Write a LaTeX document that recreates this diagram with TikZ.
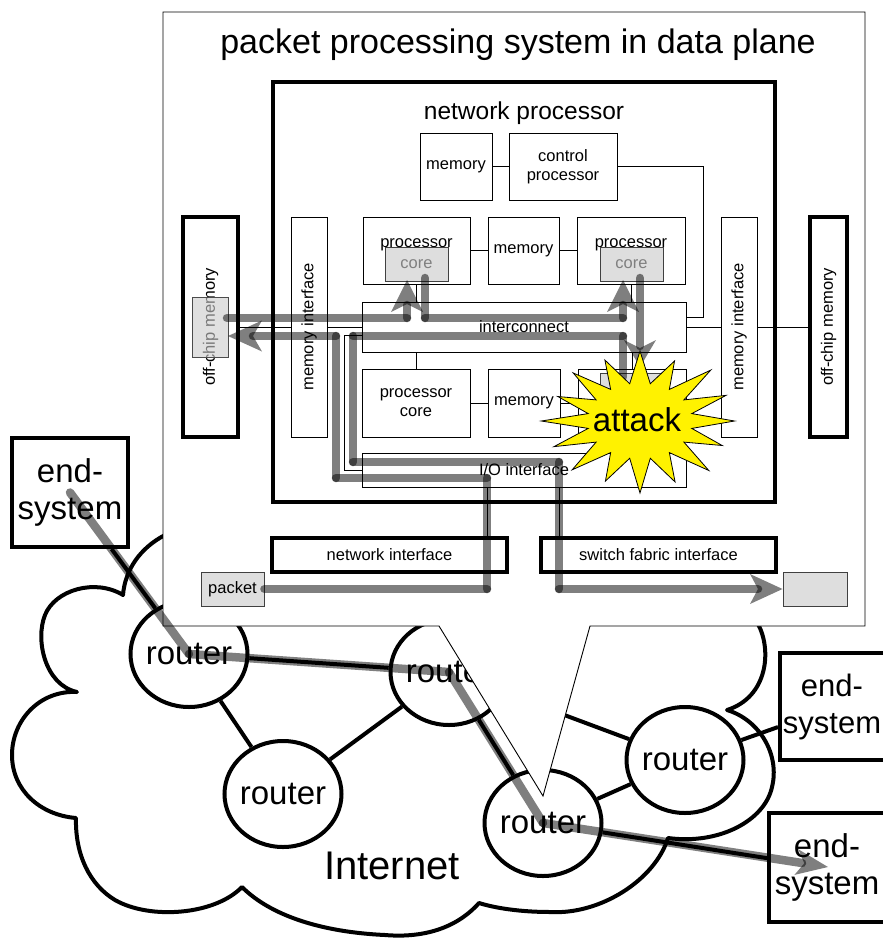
\documentclass[tikz,border=0pt]{standalone}
\usepackage{fontspec}
\setmainfont{Liberation Sans}
\usetikzlibrary{shapes.geometric}
\tikzset{
  f16/.style={font=\fontsize{16.5}{19}\selectfont},
  f24/.style={font=\fontsize{24.5}{28}\selectfont},
  f31/.style={font=\fontsize{31}{37}\selectfont},
  f33/.style={font=\fontsize{33}{37}\selectfont},
  f34/.style={font=\fontsize{34}{40}\selectfont},
  f40/.style={font=\fontsize{40}{46}\selectfont},
  thinline/.style={draw=black, line width=0.9pt},
  box/.style={rectangle, draw=black, line width=0.9pt, fill=white, inner sep=0pt, align=center, f16},
  greybox/.style={rectangle, draw=black!75, line width=0.9pt, fill=black!13, inner sep=0pt, text=black!50, f16},
  flow/.style={line width=8.5pt, draw=black, draw opacity=0.5, line cap=round},
  flowtip/.style={fill=black, fill opacity=0.5, draw=none},
  link/.style={line width=4pt, draw=black},
  router/.style={ellipse, draw=black, line width=4pt, fill=white, minimum width=117pt, minimum height=106pt, inner sep=0pt},
  endsys/.style={rectangle, draw=black, line width=4pt, fill=white, inner sep=0pt},
  cloudline/.style={draw=black, line width=4pt, fill=white, line join=round},
  attackstar/.style={draw=black, line width=0.8pt, fill=yellow},
}
\begin{document}
\begin{tikzpicture}[x=1pt,y=-1pt]
\useasboundingbox (0,0) rectangle (883,938);

% ---------- cloud ----------
\draw[cloudline] (175,528) -- (760,528) -- (758,624)
  .. controls (772,650) and (768,697) .. (727,710)
  .. controls (760,720) and (780,755) .. (772,787)
  .. controls (765,820) and (720,845) .. (668,838)
  .. controls (655,880) and (600,915) .. (550,912)
  .. controls (520,912) and (495,908) .. (479,903)
  .. controls (455,930) and (420,938) .. (385,935)
  .. controls (320,932) and (270,915) .. (242,887)
  .. controls (215,915) and (150,920) .. (115,900)
  .. controls (90,885) and (75,855) .. (76,818)
  .. controls (40,815) and (12,790) .. (12,755)
  .. controls (12,720) and (40,690) .. (77,692)
  .. controls (45,685) and (35,640) .. (45,615)
  .. controls (55,590) and (95,578) .. (123,595)
  .. controls (125,570) and (140,548) .. (165,535)
  -- cycle;

% ---------- routers and end-systems ----------
\node[router] (R1) at (189,654) {};
\node[router] (R2) at (449,672) {};
\node[router] (R3) at (283,794) {};
\node[router] (R4) at (543,823) {};
\node[router] (R5) at (685,760) {};
\node[endsys, minimum width=116pt, minimum height=109pt] (ES1) at (70,492.5) {};
\node[endsys, minimum width=112pt, minimum height=107pt] (ES2) at (836,706.5) {};
\node[endsys, minimum width=116pt, minimum height=109pt] (ES3) at (827,867.5) {};

\draw[link] (ES1) -- (R1);
\draw[link] (R1) -- (R2);
\draw[link] (R1) -- (R3);
\draw[link] (R3) -- (R2);
\draw[link] (R2) -- (R4);
\draw[link] (R2) -- (R5);
\draw[link] (R4) -- (R5);
\draw[link] (R5) -- (ES2);
\draw[link] (R4) -- (ES3);

\node[f33] (R1t) at (R1) {router};
\node[f33] (R2t) at (R2) {router};
\node[f33] (R3t) at (R3) {router};
\node[f33] (R4t) at (R4) {router};
\node[f33] (R5t) at (R5) {router};
\node[f33, align=center] (ES1t) at (ES1) {end-\\system};
\node[f31, align=center] (ES2t) at (832,706.5) {end-\\system};
\node[f33, align=center] (ES3t) at (ES3) {end-\\system};
\node[f40] (inet) at (392,866) {Internet};

% ---------- callout ----------
\draw[line width=0.9pt, fill=white] (163,12) -- (865,12) -- (865,626) -- (590,626)
  -- (543,796) -- (439,626) -- (163,626) -- cycle;
\node[f34] (title) at (518,45) {packet processing system in data plane};

% network processor
\node[rectangle, draw=black, line width=4pt, minimum width=502pt, minimum height=420pt, inner sep=0pt] (np) at (524,292) {};
\node[f24] (nptitle) at (524,113) {network processor};

\node[box, minimum width=72pt, minimum height=67pt] (memtop) at (456,166.5) {memory};
\node[box, minimum width=108pt, minimum height=67pt] (ctrl) at (563,166.5) {control\\processor};
\node[box, minimum width=107pt, minimum height=67pt] (proc1) at (416.5,250.5) {};
\node[f16, anchor=base] (proc1t) at (416.5,247) {processor};
\node[greybox, minimum width=63pt, minimum height=34pt] (core1) at (416.5,264) {core};
\node[box, minimum width=71pt, minimum height=67pt] (memmid) at (523.5,250.5) {memory};
\node[box, minimum width=108pt, minimum height=67pt] (proc2) at (631,250.5) {};
\node[f16, anchor=base] (proc2t) at (631,247) {processor};
\node[greybox, minimum width=63pt, minimum height=34pt] (core2) at (631.5,264) {core};
\node[box, minimum width=324pt, minimum height=50pt] (ic) at (524,327) {interconnect};
\node[box, minimum width=108pt, minimum height=68pt] (proc3) at (416,403) {processor\\core};
\node[box, minimum width=72pt, minimum height=68pt] (membot) at (524,403) {memory};
\node[box, minimum width=108pt, minimum height=68pt] (proc4) at (632,403) {};
\node[greybox, minimum width=62pt, minimum height=34pt] (core4) at (631,390) {};
\node[box, minimum width=324pt, minimum height=34pt] (io) at (524,470) {I/O interface};
\node[box, minimum width=36pt, minimum height=220pt] (memifL) at (309,327) {};
\node[f16, rotate=90] (memifLt) at (309,327) {memory interface};
\node[box, minimum width=36pt, minimum height=220pt] (memifR) at (739,327) {};
\node[f16, rotate=90] (memifRt) at (739,327) {memory interface};
\node[box, line width=4pt, minimum width=55pt, minimum height=220pt] (offL) at (210.5,327) {};
\node[f16, rotate=90] (offLt) at (210.5,327) {off-chip memory};
\node[rectangle, draw=black!70, line width=0.9pt, fill=black!20, fill opacity=0.6, minimum width=36pt, minimum height=60pt, inner sep=0pt] (offgrey) at (210,327) {};
\node[box, line width=4pt, minimum width=37pt, minimum height=220pt] (offR) at (828.5,327) {};
\node[f16, rotate=90] (offRt) at (828.5,327) {off-chip memory};
\node[box, line width=4pt, minimum width=235pt, minimum height=34pt] (netif) at (389.5,555) {network interface};
\node[box, line width=4pt, minimum width=235pt, minimum height=34pt] (swif) at (658.5,555) {switch fabric interface};
\node[greybox, text=black, minimum width=63pt, minimum height=34pt] (pkt) at (232.5,589) {packet};
\node[greybox, minimum width=64pt, minimum height=34pt] (outpkt) at (815,589) {};

% thin connections
\coordinate (cpc) at (703,317);
\coordinate (iol) at (344,335);
\coordinate (ionet) at (487,487);
\coordinate (iosw) at (559,487);
\draw[thinline] (memtop.east) -- (ctrl.west);
\draw[thinline] (ctrl.east) -| (cpc) -- (cpc -| ic.east);
\draw[thinline] (proc1.east) -- (memmid.west);
\draw[thinline] (memmid.east) -- (proc2.west);
\draw[thinline] (proc1.south) -- (proc1.south |- ic.north);
\draw[thinline] (proc2.south) -- (proc2.south |- ic.north);
\draw[thinline] (proc3.north |- ic.south) -- (proc3.north);
\draw[thinline] (proc4.north |- ic.south) -- (proc4.north);
\draw[thinline] (proc3.east) -- (membot.west);
\draw[thinline] (membot.east) -- (proc4.west);
\draw[thinline] (ic.east) -- (memifR.west);
\draw[thinline] (memifR.east) -- (offR.west);
\draw[thinline] (offL.east) -- (memifL.west);
\draw[thinline] (memifL.east) -- (ic.west);
\draw[thinline] (iol -| ic.west) -- (iol) |- (io.west);
\draw[thinline] (ionet) -- (ionet |- netif.north);
\draw[thinline] (iosw) -- (iosw |- swif.north);

% ---------- packet flows inside ----------
\coordinate (fA1) at (487,589);
\coordinate (fA2) at (487,478);
\coordinate (fA3) at (336,478);
\coordinate (fA4) at (336,336);
\coordinate (fA5) at (253,336);
\draw[flow] (pkt.east) -- (fA1);
\draw[flow] (fA1) -- (fA2);
\draw[flow] (fA2) -- (fA3);
\draw[flow] (fA3) -- (fA4);
\draw[flow] (fA4) -- (fA5);
\fill[flowtip] (228,336) -- (262,320.5) -- (253,336) -- (262,351.5) -- cycle;

\coordinate (fB0) at (623,377);
\coordinate (fB1) at (623,336);
\coordinate (fB2) at (353,336);
\coordinate (fB3) at (353,462);
\coordinate (fB4) at (559,462);
\coordinate (fB5) at (559,589);
\coordinate (fB6) at (758,589);
\draw[flow] (fB0) -- (fB1);
\draw[flow] (fB1) -- (fB2);
\draw[flow] (fB2) -- (fB3);
\draw[flow] (fB3) -- (fB4);
\draw[flow] (fB4) -- (fB5);
\draw[flow] (fB5) -- (fB6);
\fill[flowtip] (outpkt.west) -- (750,574) -- (758,589) -- (750,604) -- cycle;

\coordinate (fC0) at (227,318);
\coordinate (fC1) at (407,318);
\coordinate (fC2) at (407,305);
\coordinate (fC3) at (425,278);
\coordinate (fC4) at (425,318);
\coordinate (fC5) at (623,318);
\coordinate (fC6) at (623,305);
\coordinate (fC7) at (640,278);
\coordinate (fC8) at (640,346);
\draw[flow] (fC0) -- (fC1);
\draw[flow] (fC1) -- (fC2);
\fill[flowtip] (407,280) -- (391,312) -- (407,304) -- (423,312) -- cycle;
\draw[flow] (fC3) -- (fC4);
\draw[flow] (fC4) -- (fC5);
\draw[flow] (fC5) -- (fC6);
\fill[flowtip] (623,280) -- (607,312) -- (623,304) -- (639,312) -- cycle;
\draw[flow] (fC7) -- (fC8);
\fill[flowtip] (640,367) -- (624,340) -- (640,348) -- (656,340) -- cycle;

% ---------- attack ----------
\begin{scope}[shift={(640,421)}, xscale=1.39]
\draw[attackstar] (0:68) \foreach \i/\r in {1/64,2/70,3/66,4/72,5/65,6/69,7/67,8/71,9/64,10/68,11/66,12/70,13/65,14/72,15/67} { -- ({\i*22.5-11.25}:38) -- ({\i*22.5}:\r) } -- (348.75:38) -- cycle;
\end{scope}
\node[f33] (attack) at (637,420) {attack};

% ---------- packet flow through the network ----------
\coordinate (nEnd) at (802,863);
\draw[flow] (ES1.center) -- (R1.center);
\draw[flow] (R1.center) -- (R2.center);
\draw[flow] (R2.center) -- (R4.center);
\draw[flow] (R4.center) -- (nEnd);
\fill[flowtip] (828,867) -- (798.4,849.3) -- (804.3,863.3) -- (794.4,874.9) -- cycle;
\end{tikzpicture}
\end{document}
